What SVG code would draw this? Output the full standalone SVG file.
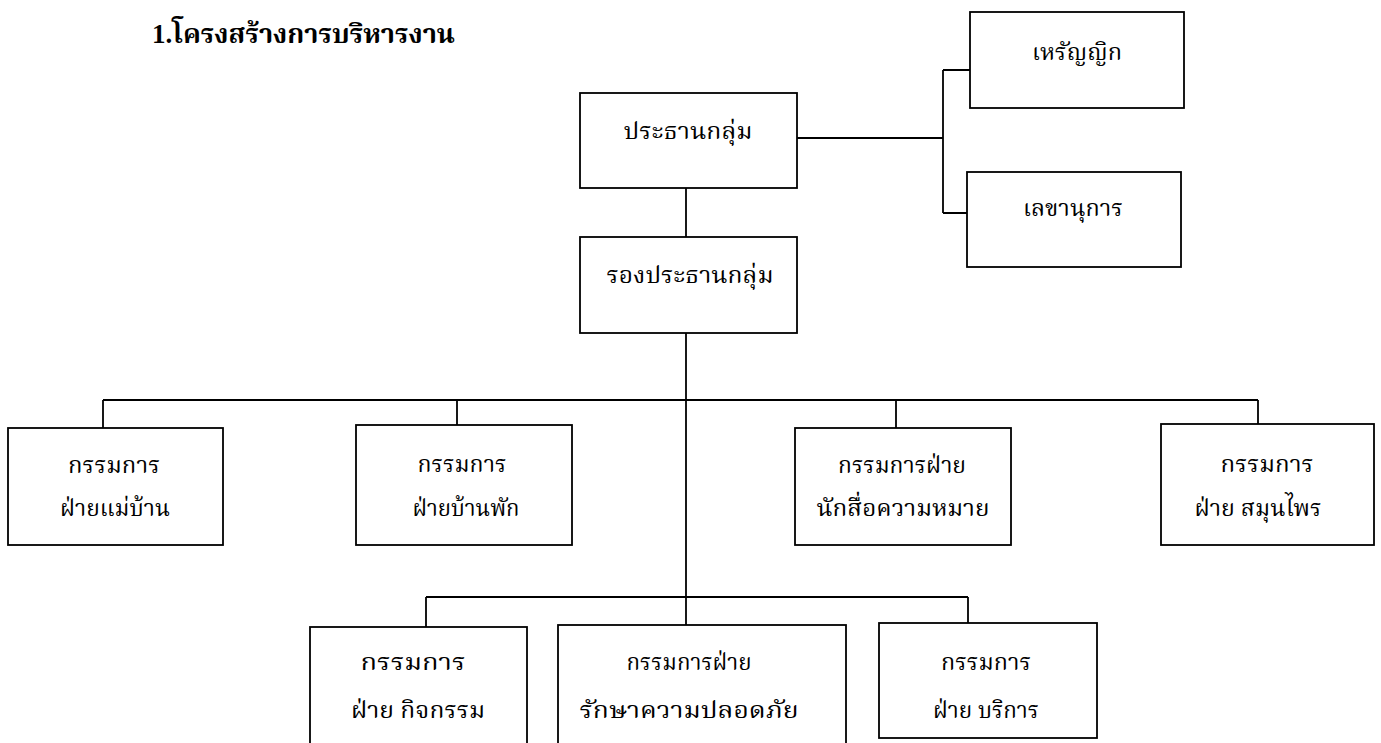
<svg xmlns="http://www.w3.org/2000/svg" width="1381" height="743" viewBox="0 0 1381 743">
<style>
.box{fill:#fff;stroke:#000;stroke-width:1.8}
.ln{fill:none;stroke:#000;stroke-width:1.8}
.t{font-family:"Noto Serif Thai","Noto Sans Thai","Liberation Serif",serif;font-size:23px;fill:#000;text-anchor:middle}
.title{font-family:"Liberation Serif","Noto Serif Thai","Noto Sans Thai",serif;font-size:27px;font-weight:bold;fill:#000}
</style>
<rect width="1381" height="743" fill="#fff"/>
<text class="title" x="152" y="43" textLength="303" lengthAdjust="spacingAndGlyphs">1.โครงสร้างการบริหารงาน</text>
<g id="connectors">
<path class="ln" d="M797 138H943M943 70V213M943 70H970M943 213H967"/>
<path class="ln" d="M686 188V237"/>
<path class="ln" d="M686 333V625"/>
<path class="ln" d="M103 400H1258M103 400V428M457 400V425M896 400V428M1258 400V424"/>
<path class="ln" d="M426 597H968M426 597V627M968 597V623"/>
</g>
<g id="n-president"><rect class="box" x="580" y="93" width="217" height="95"/><text class="t" x="688" y="139" textLength="129" lengthAdjust="spacingAndGlyphs">ประธานกลุ่ม</text></g>
<g id="n-treasurer"><rect class="box" x="970" y="12" width="214" height="96"/><text class="t" x="1077" y="60" textLength="90" lengthAdjust="spacingAndGlyphs">เหรัญญิก</text></g>
<g id="n-secretary"><rect class="box" x="967" y="172" width="214" height="95"/><text class="t" x="1073" y="216" textLength="100" lengthAdjust="spacingAndGlyphs">เลขานุการ</text></g>
<g id="n-vice"><rect class="box" x="580" y="237" width="217" height="96"/><text class="t" x="690" y="283" textLength="167" lengthAdjust="spacingAndGlyphs">รองประธานกลุ่ม</text></g>
<g id="n-housewife"><rect class="box" x="8" y="428" width="215" height="117"/><text class="t" x="114" y="473" textLength="92" lengthAdjust="spacingAndGlyphs">กรรมการ</text><text class="t" x="115" y="516" textLength="110" lengthAdjust="spacingAndGlyphs">ฝ่ายแม่บ้าน</text></g>
<g id="n-homestay"><rect class="box" x="356" y="425" width="216" height="120"/><text class="t" x="462" y="472" textLength="89" lengthAdjust="spacingAndGlyphs">กรรมการ</text><text class="t" x="466" y="516" textLength="107" lengthAdjust="spacingAndGlyphs">ฝ่ายบ้านพัก</text></g>
<g id="n-interpreter"><rect class="box" x="795" y="428" width="216" height="117"/><text class="t" x="902" y="473" textLength="128" lengthAdjust="spacingAndGlyphs">กรรมการฝ่าย</text><text class="t" x="903" y="516" textLength="173" lengthAdjust="spacingAndGlyphs">นักสื่อความหมาย</text></g>
<g id="n-herb"><rect class="box" x="1161" y="424" width="213" height="121"/><text class="t" x="1267" y="472" textLength="93" lengthAdjust="spacingAndGlyphs">กรรมการ</text><text class="t" x="1258" y="516" textLength="127" lengthAdjust="spacingAndGlyphs">ฝ่าย  สมุนไพร</text></g>
<g id="n-activity"><rect class="box" x="310" y="627" width="217" height="130"/><text class="t" x="413" y="670" textLength="105" lengthAdjust="spacingAndGlyphs">กรรมการ</text><text class="t" x="418" y="718" textLength="134" lengthAdjust="spacingAndGlyphs">ฝ่าย  กิจกรรม</text></g>
<g id="n-safety"><rect class="box" x="558" y="625" width="288" height="130"/><text class="t" x="689" y="670" textLength="125" lengthAdjust="spacingAndGlyphs">กรรมการฝ่าย</text><text class="t" x="689" y="718" textLength="219" lengthAdjust="spacingAndGlyphs">รักษาความปลอดภัย</text></g>
<g id="n-service"><rect class="box" x="879" y="623" width="218" height="115"/><text class="t" x="986" y="670" textLength="90" lengthAdjust="spacingAndGlyphs">กรรมการ</text><text class="t" x="986" y="718" textLength="106" lengthAdjust="spacingAndGlyphs">ฝ่าย บริการ</text></g>
</svg>
